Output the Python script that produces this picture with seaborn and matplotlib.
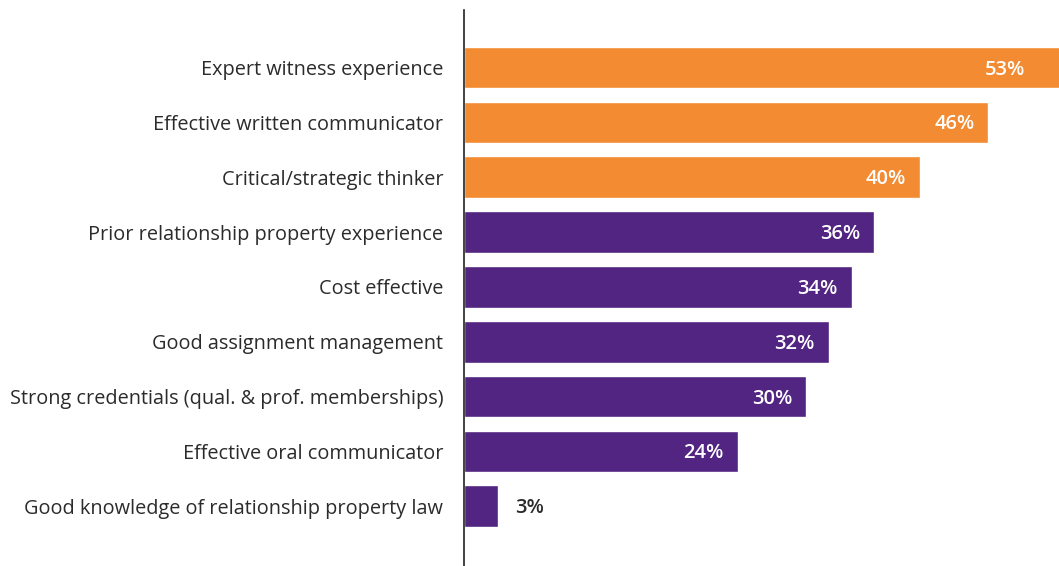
import matplotlib
matplotlib.use("Agg")
import matplotlib.pyplot as plt
import seaborn as sns
import pandas as pd

# Attributes valued in an expert, share of respondents (%)
attributes = [
    "Expert witness experience",
    "Effective written communicator",
    "Critical/strategic thinker",
    "Prior relationship property experience",
    "Cost effective",
    "Good assignment management",
    "Strong credentials (qual. & prof. memberships)",
    "Effective oral communicator",
    "Good knowledge of relationship property law",
]
shares = [53, 46, 40, 36, 34, 32, 30, 24, 3]
groups = ["top", "top", "top", "rest", "rest", "rest", "rest", "rest", "rest"]

ORANGE = "#F38B32"
PURPLE = "#512581"
TEXT = "#2b2b2b"

df = pd.DataFrame({"attribute": attributes, "share": shares, "group": groups})

sns.set_theme(style="white")
plt.rcParams["font.family"] = ["Open Sans", "DejaVu Sans"]

fig = plt.figure(figsize=(10.59, 5.66), dpi=100)
ax = fig.add_axes([464 / 1059, 0.0, 1 - 464 / 1059, 556 / 566])

sns.barplot(
    data=df, y="attribute", x="share", hue="group",
    palette={"top": ORANGE, "rest": PURPLE}, saturation=1,
    orient="h", width=0.76, dodge=False, legend=False, ax=ax,
)

xmax = 52.2
ax.set_xlim(0, xmax)
ax.set_ylim(len(attributes) - 1 + 1.09, -1.05)

for i, v in enumerate(shares):
    if v >= 10:
        end = min(v, xmax)
        off = -24 if v > xmax else -10
        ax.annotate(f"{v}%", xy=(end, i), xytext=(off, -1.5), textcoords="offset points",
                    ha="right", va="center", color="white", fontsize=14.5,
                    fontweight="semibold")
    else:
        ax.annotate(f"{v}%", xy=(v, i), xytext=(12, -1.5), textcoords="offset points",
                    ha="left", va="center", color=TEXT, fontsize=14.5,
                    fontweight="semibold")

ax.set_xlabel("")
ax.set_ylabel("")
ax.set_xticks([])
ax.tick_params(axis="y", length=0, pad=15, labelsize=14.3, labelcolor=TEXT)
for s in ["top", "right", "bottom"]:
    ax.spines[s].set_visible(False)
ax.spines["left"].set_color("#222222")
ax.spines["left"].set_linewidth(1.2)

fig.savefig("out.png", dpi=100)
